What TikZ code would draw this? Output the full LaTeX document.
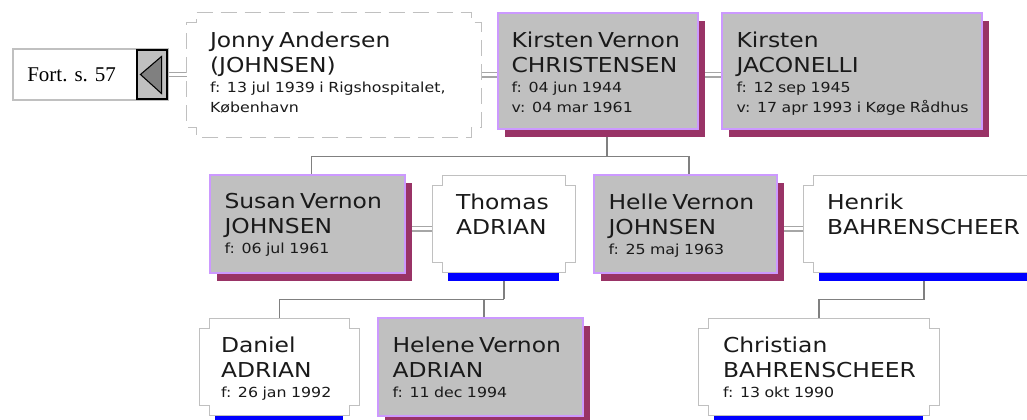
\documentclass[tikz,border=0pt]{standalone}
\usepackage{fontspec}
\usepackage{tikz}
\usetikzlibrary{
  calc,%
  fit,%
  shadows,%
  backgrounds
}
\newfontfamily\personfont[FakeStretch=1.14, WordSpace=1.3]{DejaVu Sans}
\newfontfamily\fortfont{Liberation Serif}
\newcommand\namesize{\fontsize{15.4pt}{18.75pt}\selectfont}
\newcommand\datesize{\fontsize{10.4pt}{15pt}\selectfont}
\setlength\parindent{0pt}
\setlength\parskip{0pt}

\definecolor{boxgray}{RGB}{192,192,192}
\definecolor{lilac}{RGB}{204,153,255}
\definecolor{wine}{RGB}{153,51,102}
\definecolor{edgegray}{RGB}{192,192,192}
\definecolor{treegray}{RGB}{128,128,128}
\definecolor{pairgray}{RGB}{166,166,166}
\definecolor{barblue}{RGB}{0,0,255}
\definecolor{inkblack}{RGB}{26,26,26}

% one unit is one pixel of the page, y runs downwards
\tikzset{
  person/.style={draw=lilac, fill=boxgray, line width=1.1pt, inner sep=0pt,
    drop shadow={shadow xshift=5.6pt, shadow yshift=-6pt, fill=wine, opacity=1}},
  partner/.style={inner sep=0pt},
  notchline/.style={draw=edgegray, line width=1.1pt},
  persontext/.style={anchor=north west, inner sep=0pt, text width=225pt,
    align=left, font=\personfont, text=inkblack},
  tree/.style={draw=treegray, line width=1.1pt},
  marriage/.style={draw=pairgray, line width=0.9pt, double=white,
    double distance=2.25pt},
  fortbox/.style={draw=edgegray, fill=white, line width=1.1pt, inner sep=0pt},
  backbox/.style={draw=black, fill=boxgray, line width=0.8pt, inner sep=0pt},
  backtri/.style={draw=black, fill=treegray, line width=0.8pt},
}

% outline with square notches at the corners
\newcommand\notchbox[2][]{%
  \draw[notchline,#1] ($(#2.north west)+(10,0)$) -- ($(#2.north east)+(-10,0)$)
    -- ++(0,10) -- ++(10,0) -- ($(#2.south east)+(0,-10)$) -- ++(-10,0)
    -- ++(0,10) -- ($(#2.south west)+(10,0)$) -- ++(0,-10) -- ++(-10,0)
    -- ($(#2.north west)+(0,10)$) -- ++(10,0) -- cycle;}
\newcommand\bluebar[1]{%
  \fill[barblue] ($(#1.south west)+(15,1)$) rectangle ($(#1.south east)+(-16,9)$);}

\begin{document}
\begin{tikzpicture}[x=0.75pt, y=-0.75pt]
  \useasboundingbox (0,0) rectangle (1027,420);

  % previous page
  \node[fortbox, fit={(13,49) (168,100)}] (fort) {};
  \node[backbox, fit={(137,50) (167,99)}] (fortback) {};
  \filldraw[backtri] ([xshift=3pt]fortback.west)
    -- ([shift={(-4.5pt,-5.25pt)}]fortback.north east)
    -- ([shift={(-4.5pt,4.5pt)}]fortback.south east) -- cycle;
  \node[anchor=base west, inner sep=0pt, font=\fortfont\fontsize{15.75pt}{18pt}\selectfont]
    (fortlabel) at (27,82) {Fort. s. 57};

  % parents
  \node[partner, fit={(187,13) (481,137)}] (jonny) {};
  \notchbox[dash pattern=on 12pt off 6pt]{jonny}
  \node[persontext] (jonnytext) at ([shift={(23,19)}]jonny.north west)
    {\namesize Jonny Andersen\\(JOHNSEN)\par
     \datesize f: 13 jul 1939 i Rigshospitalet,\\København\par};

  \node[person, fit={(498,13) (698,129)}] (kirsten) {};
  \node[persontext] (kirstentext) at ([shift={(14,19)}]kirsten.north west)
    {\namesize Kirsten Vernon\\CHRISTENSEN\par
     \datesize f: 04 jun 1944\\v: 04 mar 1961\par};

  \node[person, fit={(722,13) (982,129)}] (jaconelli) {};
  \node[persontext] (jaconellitext) at ([shift={(15,19)}]jaconelli.north west)
    {\namesize Kirsten\\JACONELLI\par
     \datesize f: 12 sep 1945\\v: 17 apr 1993 i Køge Rådhus\par};

  % children
  \node[person, fit={(210,175) (405,273)}] (susan) {};
  \node[persontext] (susantext) at ([shift={(15,19)}]susan.north west)
    {\namesize Susan Vernon\\JOHNSEN\par
     \datesize f: 06 jul 1961\par};

  \node[partner, fit={(433,176) (575,272)}] (thomas) {};
  \notchbox{thomas}
  \bluebar{thomas}
  \node[persontext] (thomastext) at ([shift={(23,18)}]thomas.north west)
    {\namesize Thomas\\ADRIAN\par};

  \node[person, fit={(594,175) (777,273)}] (helle) {};
  \node[persontext] (helletext) at ([shift={(15,19)}]helle.north west)
    {\namesize Helle Vernon\\JOHNSEN\par
     \datesize f: 25 maj 1963\par};

  \node[partner, fit={(804,176) (1044,272)}] (henrik) {};
  \notchbox{henrik}
  \bluebar{henrik}
  \node[persontext] (henriktext) at ([shift={(23,18)}]henrik.north west)
    {\namesize Henrik\\BAHRENSCHEER\par};

  % grandchildren
  \node[partner, fit={(200,319) (359,415)}] (daniel) {};
  \notchbox{daniel}
  \bluebar{daniel}
  \node[persontext] (danieltext) at ([shift={(21,18)}]daniel.north west)
    {\namesize Daniel\\ADRIAN\par
     \datesize f: 26 jan 1992\par};

  \node[person, fit={(378,318) (583,416)}] (helene) {};
  \node[persontext] (helenetext) at ([shift={(15,19)}]helene.north west)
    {\namesize Helene Vernon\\ADRIAN\par
     \datesize f: 11 dec 1994\par};

  \node[partner, fit={(699,319) (939,415)}] (christian) {};
  \notchbox{christian}
  \bluebar{christian}
  \node[persontext] (christiantext) at ([shift={(24,18)}]christian.north west)
    {\namesize Christian\\BAHRENSCHEER\par
     \datesize f: 13 okt 1990\par};

  % connectors
  \begin{scope}[on background layer]
    \draw[marriage] (fort.east) -- (fort.east -| jonny.west);
    \draw[marriage] (jonny.east) -- (jonny.east -| kirsten.west);
    \draw[marriage] ([yshift=-3pt]kirsten.east) -- ([yshift=-3pt]kirsten.east -| jaconelli.west);
    \draw[marriage] ([yshift=-3.75pt]susan.east) -- ([yshift=-3.75pt]susan.east -| thomas.west);
    \draw[marriage] ([yshift=-3.75pt]helle.east) -- ([yshift=-3.75pt]helle.east -| henrik.west);

    \draw[tree] ([xshift=6.75pt]kirsten.south) -- ++(0,27) coordinate (kidsfork);
    \draw[tree] ([xshift=3pt]susan.north) |- (kidsfork) -| ([xshift=2.6pt]helle.north);
    \draw[tree] (thomas.south) -- ++(0,27) coordinate (adrianfork);
    \draw[tree] (daniel.north) |- (adrianfork);
    \draw[tree] ([xshift=2.6pt]helene.north) |- (adrianfork);
    \draw[tree] (henrik.south) -- ++(0,27) -| (christian.north);
  \end{scope}
\end{tikzpicture}
\end{document}
